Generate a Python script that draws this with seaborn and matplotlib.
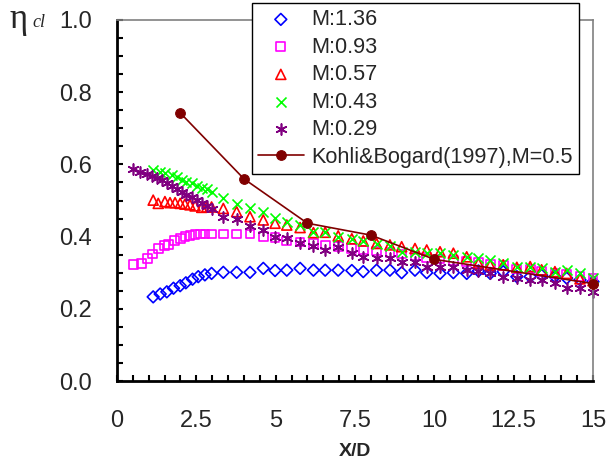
import seaborn as sns
import matplotlib.pyplot as plt
import numpy as np
import pandas as pd
from matplotlib.ticker import MultipleLocator, FuncFormatter

# x positions (dense near the hole, coarser downstream)
x_late = [3.35, 3.77, 4.19, 4.61, 4.98, 5.35, 5.77, 6.19, 6.56, 6.97, 7.40, 7.76, 8.18, 8.60, 8.97,
          9.39, 9.76, 10.18, 10.60, 11.02, 11.39, 11.76, 12.17, 12.60, 13.02, 13.38, 13.80, 14.17, 14.59, 15.00]

# M = 1.36
x_m136 = [1.14, 1.36, 1.57, 1.78, 1.99, 2.17, 2.38, 2.56, 2.77, 2.98] + x_late
y_m136 = [0.233, 0.241, 0.247, 0.257, 0.264, 0.272, 0.282, 0.289, 0.294, 0.298,
          0.301, 0.301, 0.301, 0.312, 0.306, 0.307, 0.312, 0.307, 0.307, 0.307, 0.306, 0.303, 0.307, 0.307, 0.300,
          0.307, 0.300, 0.298, 0.300, 0.298, 0.305, 0.298, 0.303, 0.289, 0.289, 0.293, 0.289, 0.285, 0.280, 0.275]

# M = 0.93
x_m093 = [0.51, 0.78, 0.97, 1.11, 1.30, 1.49, 1.62, 1.81, 1.99, 2.14, 2.30, 2.46, 2.62, 2.77, 2.98] + x_late
y_m093 = [0.323, 0.326, 0.340, 0.352, 0.367, 0.375, 0.379, 0.389, 0.395, 0.400, 0.403, 0.405, 0.407, 0.407, 0.407,
          0.407, 0.407, 0.407, 0.400, 0.398, 0.388, 0.385, 0.380, 0.377, 0.372, 0.368, 0.363, 0.360, 0.356, 0.352,
          0.346, 0.342, 0.338, 0.334, 0.330, 0.328, 0.324, 0.321, 0.310, 0.310, 0.303, 0.298, 0.295, 0.289, 0.285]

# M = 0.57
x_m057 = [1.14, 1.30, 1.51, 1.67, 1.83, 1.99, 2.14, 2.30, 2.46, 2.67, 2.83, 2.98] + x_late
y_m057 = [0.501, 0.492, 0.497, 0.494, 0.494, 0.492, 0.490, 0.488, 0.485, 0.481, 0.482, 0.482,
          0.478, 0.469, 0.455, 0.446, 0.437, 0.432, 0.425, 0.411, 0.412, 0.402, 0.394, 0.388, 0.381, 0.377, 0.372,
          0.367, 0.363, 0.358, 0.354, 0.344, 0.326, 0.321, 0.322, 0.315, 0.317, 0.308, 0.303, 0.298, 0.283, 0.278]

# M = 0.43
x_m043 = [1.14, 1.36, 1.51, 1.72, 1.88, 2.04, 2.19, 2.35, 2.51, 2.67, 2.83, 2.98] + x_late
y_m043 = [0.584, 0.580, 0.575, 0.571, 0.564, 0.557, 0.550, 0.548, 0.541, 0.536, 0.531, 0.524,
          0.508, 0.490, 0.478, 0.469, 0.451, 0.441, 0.432, 0.412, 0.412, 0.400, 0.392, 0.389, 0.380, 0.374, 0.358,
          0.358, 0.354, 0.354, 0.349, 0.344, 0.340, 0.335, 0.326, 0.317, 0.317, 0.312, 0.303, 0.307, 0.298, 0.285]

# M = 0.29
x_m029 = [0.51, 0.72, 0.94, 1.09, 1.25, 1.41, 1.57, 1.72, 1.88, 2.04, 2.19, 2.35, 2.51, 2.67, 2.83, 2.98] + x_late
y_m029 = [0.587, 0.580, 0.573, 0.568, 0.561, 0.557, 0.549, 0.540, 0.531, 0.524, 0.515, 0.511, 0.501, 0.492, 0.485, 0.476,
          0.455, 0.449, 0.428, 0.419, 0.400, 0.397, 0.382, 0.374, 0.363, 0.370, 0.354, 0.344, 0.340, 0.340, 0.330,
          0.330, 0.317, 0.317, 0.317, 0.307, 0.305, 0.298, 0.289, 0.284, 0.280, 0.280, 0.271, 0.257, 0.257, 0.247]

# Kohli & Bogard (1997), M = 0.5
x_kb = [2, 4, 6, 8, 10, 15]
y_kb = [0.742, 0.560, 0.437, 0.404, 0.337, 0.270]

series = [
    ('M:1.36', x_m136, y_m136, 'D', '#0000FF', 36),
    ('M:0.93', x_m093, y_m093, 's', '#FF00FF', 40),
    ('M:0.57', x_m057, y_m057, '^', '#FF0000', 52),
    ('M:0.43', x_m043, y_m043, 'x', '#00FF00', 52),
    ('M:0.29', x_m029, y_m029, (6, 2, 0), '#800080', 62),
]

sns.set_theme(style='white')
plt.rcParams['font.family'] = ['Liberation Sans', 'DejaVu Sans']

fig = plt.figure(figsize=(6.11, 4.75), dpi=100)
ax = fig.add_axes([117 / 611, 1 - 381 / 475, 476 / 611, 361 / 475])

for label, xs, ys, mk, col, size in series:
    df = pd.DataFrame({'x': xs, 'y': ys})
    if mk in ('D', 's', '^'):
        sns.scatterplot(data=df, x='x', y='y', marker=mk, s=size, facecolor='none',
                        edgecolor=col, linewidth=1.2, label=label, ax=ax, clip_on=False)
    else:
        sns.scatterplot(data=df, x='x', y='y', marker=mk, s=size, color=col,
                        linewidth=1.2, label=label, ax=ax, clip_on=False)

kb_df = pd.DataFrame({'x': x_kb, 'y': y_kb})
sns.lineplot(data=kb_df, x='x', y='y', color='#800000', linewidth=1.2, marker='o',
             markersize=7, markeredgecolor='#800000', label='Kohli&Bogard(1997),M=0.5',
             ax=ax, clip_on=False, zorder=5)

ax.set_xlim(0, 15)
ax.set_ylim(0, 1.0)
ax.xaxis.set_major_locator(MultipleLocator(2.5))
ax.xaxis.set_minor_locator(MultipleLocator(0.5))
ax.yaxis.set_major_locator(MultipleLocator(0.2))
ax.yaxis.set_minor_locator(MultipleLocator(0.05))
ax.xaxis.set_major_formatter(FuncFormatter(lambda v, p: '%g' % v))
ax.yaxis.set_major_formatter(FuncFormatter(lambda v, p: '%.1f' % v))

ax.tick_params(which='both', direction='in', length=4.5, width=1.5, color='black',
               bottom=True, left=True, top=False, right=False)
ax.tick_params(axis='x', which='major', labelsize=17, pad=21)
ax.tick_params(axis='y', which='major', labelsize=17, pad=18)

for side in ['left', 'bottom']:
    ax.spines[side].set_color('black')
    ax.spines[side].set_linewidth(2)
for side in ['top', 'right']:
    ax.spines[side].set_color('#808080')
    ax.spines[side].set_linewidth(1.2)

ax.set_xlabel('X/D', fontsize=14, fontweight='bold', labelpad=8)
ax.set_ylabel('')

fig.text(9 / 611, 1 - 28 / 475, 'η', fontsize=25, family='Liberation Serif', va='baseline', ha='left')
fig.text(32 / 611, 1 - 27 / 475, 'cl', fontsize=13, family='Liberation Serif', style='italic',
         va='baseline', ha='left')

leg = ax.legend(loc='upper left', bbox_to_anchor=(252 / 611, 1 - 3 / 475), bbox_transform=fig.transFigure,
                fontsize=15.6, frameon=True, fancybox=False, borderaxespad=0, borderpad=0.28,
                labelspacing=0.3, handlelength=2.1, handletextpad=0.35, scatterpoints=1)
leg.get_frame().set_edgecolor('black')
leg.get_frame().set_linewidth(1)
leg.get_frame().set_alpha(1)
leg.set_zorder(10)

fig.savefig('out.png', dpi=100)
